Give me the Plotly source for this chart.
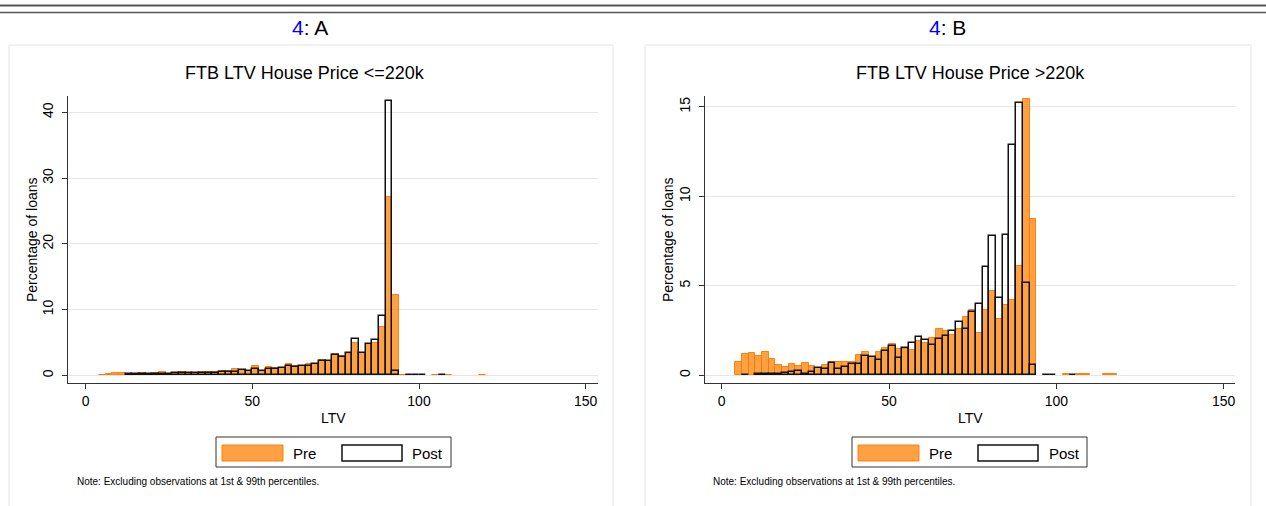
import plotly.graph_objects as go

W, H = 1266, 506

# ---------------- data (percentage of loans per 2-point LTV bin) ----------------
bin_width = 2

a_pre_start = [4, 6, 8, 10, 12, 14, 16, 18, 20, 22, 24, 26, 28, 30, 32, 34, 36, 38, 40, 42, 44, 46, 48,
               50, 52, 54, 56, 58, 60, 62, 64, 66, 68, 70, 72, 74, 76, 78, 80, 82, 84, 86, 88, 90, 92,
               94, 96, 104, 108, 118]
a_pre_pct = [0.1, 0.15, 0.35, 0.4, 0.2, 0.25, 0.3, 0.2, 0.35, 0.5, 0.25, 0.2, 0.5, 0.4, 0.35, 0.5, 0.45,
             0.5, 0.7, 0.65, 0.9, 0.8, 0.65, 1.36, 0.7, 1.26, 1.16, 1.1, 1.7, 1.36, 1.46, 1.8, 1.8, 2.37,
             2.16, 3.3, 2.97, 3.3, 4.9, 3.37, 4.7, 4.9, 7.35, 27.2, 12.2, 0.05, 0.05, 0.05, 0.05, 0.05]

a_post_start = [12, 14, 16, 18, 20, 22, 24, 26, 28, 30, 32, 34, 36, 38, 40, 42, 44, 46, 48, 50, 52, 54,
                56, 58, 60, 62, 64, 66, 68, 70, 72, 74, 76, 78, 80, 82, 84, 86, 88, 90, 92, 96, 98, 100, 106]
a_post_pct = [0.2, 0.2, 0.2, 0.15, 0.2, 0.2, 0.2, 0.3, 0.3, 0.3, 0.3, 0.4, 0.35, 0.4, 0.55, 0.5, 0.55,
              0.85, 0.65, 1.0, 0.65, 0.9, 1.0, 1.05, 1.4, 1.3, 1.4, 1.5, 1.7, 2.2, 2.2, 3.07, 2.8, 3.37,
              5.5, 3.37, 4.73, 5.4, 9.06, 41.7, 0.7, 0.05, 0.05, 0.05, 0.05]

b_pre_start = [4, 6, 8, 10, 12, 14, 16, 18, 20, 22, 24, 26, 28, 30, 32, 34, 36, 38, 40, 42, 44, 46, 48,
               50, 52, 54, 56, 58, 60, 62, 64, 66, 68, 70, 72, 74, 76, 78, 80, 82, 84, 86, 88, 90, 92,
               102, 106, 108, 114, 116]
b_pre_pct = [0.76, 1.19, 1.22, 1.09, 1.31, 0.89, 0.59, 0.46, 0.61, 0.5, 0.67, 0.5, 0.43, 0.56, 0.74, 0.76,
             0.76, 0.72, 1.11, 1.28, 1.04, 1.28, 1.5, 1.76, 1.46, 1.45, 1.43, 1.91, 1.78, 2.06, 2.56, 2.45,
             2.24, 2.56, 3.27, 3.67, 2.39, 3.67, 4.69, 3.14, 3.95, 4.19, 6.1, 15.42, 8.72,
             0.05, 0.05, 0.05, 0.05, 0.05]

b_post_start = [6, 10, 12, 14, 16, 18, 20, 22, 24, 26, 28, 30, 32, 34, 36, 38, 40, 42, 44, 46, 48, 50, 52,
                54, 56, 58, 60, 62, 64, 66, 68, 70, 72, 74, 76, 78, 80, 82, 84, 86, 88, 90, 92, 96, 98, 104]
b_post_pct = [0.04, 0.05, 0.07, 0.07, 0.07, 0.13, 0.19, 0.22, 0.1, 0.19, 0.43, 0.33, 0.69, 0.35, 0.46,
              0.61, 0.61, 1.08, 1.0, 0.83, 1.35, 1.65, 0.98, 1.52, 1.82, 2.15, 1.99, 1.67, 2.0, 2.17, 2.5,
              3.0, 2.56, 3.52, 3.99, 6.05, 7.77, 4.29, 7.83, 12.86, 15.23, 5.16, 0.58, 0.04, 0.04, 0.04]

panel_labels = ["A", "B"]
chart_titles = ["FTB LTV House Price <=220k", "FTB LTV House Price >220k"]
x_ticks = [0, 50, 100, 150]
a_y_ticks = [0, 10, 20, 30, 40]
b_y_ticks = [0, 5, 10, 15]
legend_labels = ["Pre", "Post"]
note_text = "Note: Excluding observations at 1st & 99th percentiles."

# ---------------- styles ----------------
FONT = "Liberation Sans, Arial, sans-serif"
PRE_FILL = "rgba(255,128,0,0.74)"
PRE_LINE = "rgba(255,120,0,0.9)"
POST_LINE = "#111111"
GRID = "#e6e6e6"


def X(px):
    return px / W


def Y(py):
    return 1 - py / H


def centers(starts):
    return [s + bin_width / 2 for s in starts]


def note(x, y, text, size, **kw):
    d = dict(x=X(x), y=Y(y), xref="paper", yref="paper", text=text, showarrow=False,
             xanchor="center", yanchor="middle", font=dict(size=size, color="black", family=FONT))
    d.update(kw)
    return d


fig = go.Figure()

panels = [
    dict(pre=(a_pre_start, a_pre_pct), post=(a_post_start, a_post_pct), yt=a_y_ticks,
         yr=[-1.16, 42.5], xd=[68, 598], xr=[-5.3, 153.7], xa="x", ya="y", off=0),
    dict(pre=(b_pre_start, b_pre_pct), post=(b_post_start, b_post_pct), yt=b_y_ticks,
         yr=[-0.43, 15.6], xd=[705, 1235], xr=[-5.0, 153.4], xa="x2", ya="y2", off=636),
]

shapes = []
annotations = []

for i, p in enumerate(panels):
    fig.add_trace(go.Bar(x=centers(p["pre"][0]), y=p["pre"][1], width=bin_width,
                         marker=dict(color=PRE_FILL, line=dict(color=PRE_LINE, width=1)),
                         xaxis=p["xa"], yaxis=p["ya"], showlegend=False, hoverinfo="x+y"))
    fig.add_trace(go.Bar(x=centers(p["post"][0]), y=p["post"][1], width=bin_width,
                         marker=dict(color="rgba(0,0,0,0)", line=dict(color=POST_LINE, width=1.5)),
                         xaxis=p["xa"], yaxis=p["ya"], showlegend=False, hoverinfo="x+y"))
    off = p["off"]
    cx = (p["xd"][0] + p["xd"][1]) / 2
    # panel frame
    shapes.append(dict(type="rect", xref="paper", yref="paper", x0=X(9 + off), x1=X(613 + off + (2 if i else 0)),
                       y0=Y(510), y1=Y(45), line=dict(color="#e4e4e4", width=1), layer="below"))
    # legend box
    lx = 216 + off
    shapes.append(dict(type="rect", xref="paper", yref="paper", x0=X(lx), x1=X(lx + 235),
                       y0=Y(467), y1=Y(437), line=dict(color="#333333", width=1)))
    shapes.append(dict(type="rect", xref="paper", yref="paper", x0=X(lx + 6), x1=X(lx + 67),
                       y0=Y(461), y1=Y(445), fillcolor=PRE_FILL, line=dict(color=PRE_LINE, width=1)))
    shapes.append(dict(type="rect", xref="paper", yref="paper", x0=X(lx + 126), x1=X(lx + 186),
                       y0=Y(461), y1=Y(445), fillcolor="white", line=dict(color=POST_LINE, width=1.5)))
    annotations.append(note(lx + 88, 453, legend_labels[0], 15))
    annotations.append(note(lx + 212, 453, legend_labels[1], 15))
    annotations.append(note(75 + off, 481, note_text, 10, xanchor="left"))
    annotations.append(note(cx - 28 if i == 0 else cx, 73, chart_titles[i], 18))
    annotations.append(note(310 + (637 if i else 0), 27,
                            "<span style='color:#0000ff'>4</span>: " + panel_labels[i], 21))
    annotations.append(note(cx, 418, "LTV", 14))
    annotations.append(note(32 + off, 240, "Percentage of loans", 14, textangle=-90))

# top double rule
shapes.append(dict(type="line", xref="paper", yref="paper", x0=0, x1=1, y0=Y(5.5), y1=Y(5.5),
                   line=dict(color="#555555", width=2)))
shapes.append(dict(type="line", xref="paper", yref="paper", x0=0, x1=1, y0=Y(12.5), y1=Y(12.5),
                   line=dict(color="#555555", width=1.5)))

axis_common = dict(showline=True, linecolor="#333333", linewidth=1, ticks="outside", ticklen=5,
                   tickcolor="#333333", tickfont=dict(size=14, color="black", family=FONT), zeroline=False)

layout = dict(
    width=W, height=H, margin=dict(l=0, r=0, t=0, b=0),
    paper_bgcolor="white", plot_bgcolor="white", barmode="overlay", bargap=0,
    shapes=shapes, annotations=annotations, showlegend=False,
)
for i, p in enumerate(panels):
    sx = "" if i == 0 else "2"
    layout["xaxis" + sx] = dict(axis_common, domain=[X(p["xd"][0]), X(p["xd"][1])], range=p["xr"],
                                tickvals=x_ticks, showgrid=False, anchor="y" + sx)
    layout["yaxis" + sx] = dict(axis_common, domain=[Y(383), Y(96)], range=p["yr"],
                                tickvals=p["yt"], tickangle=-90, showgrid=True, gridcolor=GRID,
                                gridwidth=1, anchor="x" + sx, ticklabelstandoff=3)

fig.update_layout(**layout)
fig.write_html("out.html", config={"displayModeBar": False},
               post_script="document.body.style.margin='0px';")
